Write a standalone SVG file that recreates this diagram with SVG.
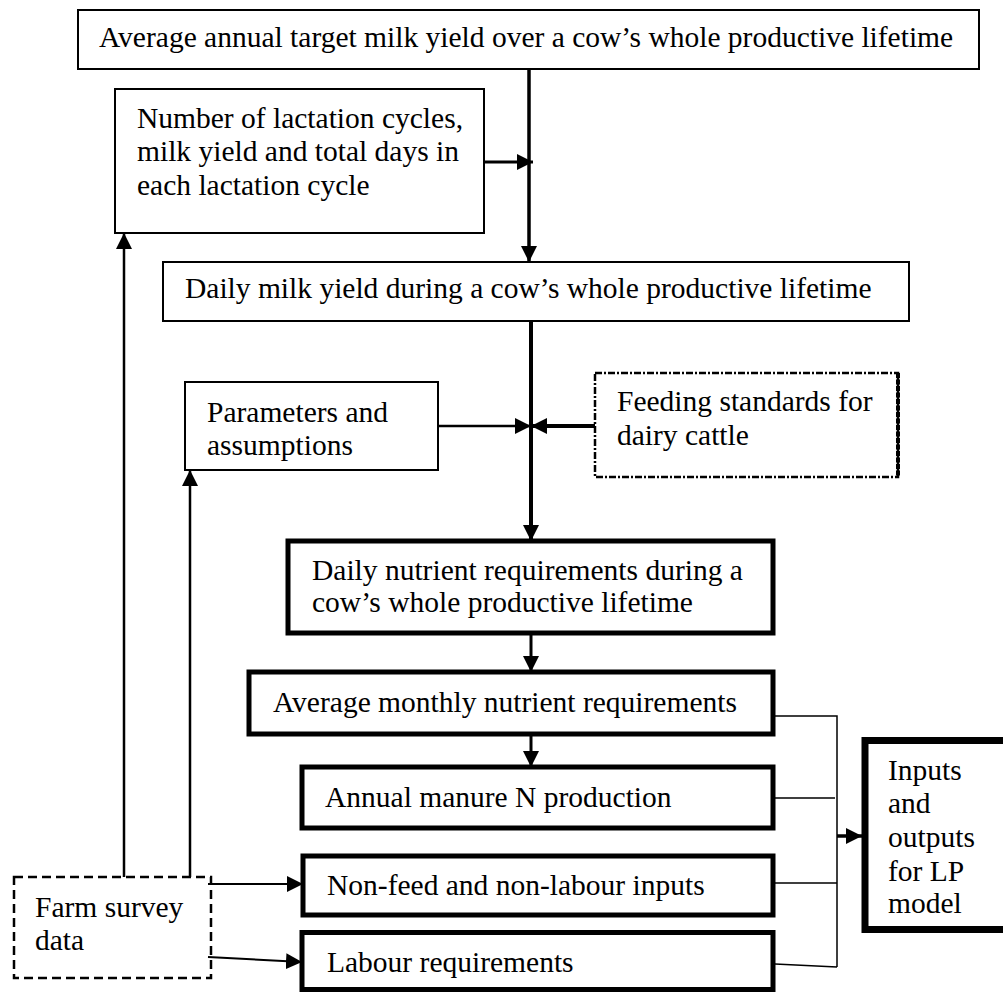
<svg xmlns="http://www.w3.org/2000/svg" width="1003" height="994" viewBox="0 0 1003 994">
<style>
text{font-family:"Liberation Serif","Times New Roman",serif;font-size:29.5px;fill:#000}
.thin{fill:#fff;stroke:#000;stroke-width:2}
.thick{fill:#fff;stroke:#000;stroke-width:5}
.lp{fill:#fff;stroke:#000;stroke-width:7}
.dot{fill:#fff;stroke:#000;stroke-width:2.5;stroke-dasharray:7 2 2 2}
.dash{fill:#fff;stroke:#000;stroke-width:2.5;stroke-dasharray:9 5}
.c{fill:none;stroke:#000}
</style>
<defs>
<marker id="ah" markerUnits="userSpaceOnUse" markerWidth="17" markerHeight="16" refX="16" refY="8" orient="auto" viewBox="0 0 17 16">
<path d="M0,0 L16,8 L0,16 z" fill="#000"/>
</marker>
</defs>
<rect width="1003" height="994" fill="#fff"/>
<g id="top"><rect class="thin" x="78" y="10" width="901" height="59"/><text x="99" y="47">Average annual target milk yield over a cow’s whole productive lifetime</text></g>
<g id="lactation"><rect class="thin" x="115" y="89" width="369" height="144"/><text x="137" y="128">Number of lactation cycles,</text><text x="137" y="161">milk yield and total days in</text><text x="137" y="195">each lactation cycle</text></g>
<g id="dailymilk"><rect class="thin" x="163" y="262" width="746" height="59"/><text x="185" y="298">Daily milk yield during a cow’s whole productive lifetime</text></g>
<g id="parameters"><rect class="thin" x="185" y="382" width="253" height="88"/><text x="207" y="422">Parameters and</text><text x="207" y="455">assumptions</text></g>
<g id="feeding"><rect class="dot" x="595" y="373" width="303" height="104"/><path d="M898,373 V477" fill="none" stroke="#000" stroke-width="4" stroke-dasharray="5 1.5"/><text x="617" y="411">Feeding standards for</text><text x="617" y="445">dairy cattle</text></g>
<g id="nutrient"><rect class="thick" x="288" y="541" width="485" height="92"/><text x="312" y="580">Daily nutrient requirements during a</text><text x="312" y="612">cow’s whole productive lifetime</text></g>
<g id="monthly"><rect class="thick" x="249" y="672" width="524" height="62"/><text x="273" y="712">Average monthly nutrient requirements</text></g>
<g id="manure"><rect class="thick" x="302" y="767" width="471" height="61"/><text x="325" y="807">Annual manure N production</text></g>
<g id="nonfeed"><rect class="thick" x="303" y="856" width="470" height="59"/><text x="327" y="895">Non-feed and non-labour inputs</text></g>
<g id="labour"><rect class="thick" x="302" y="932.5" width="471" height="57"/><text x="327" y="972">Labour requirements</text></g>
<g id="farm"><rect class="dash" x="14" y="877" width="197" height="101"/><text x="35" y="917">Farm survey</text><text x="35" y="950">data</text></g>
<g id="lp"><rect class="lp" x="865" y="740.5" width="150" height="189"/><text x="888" y="780">Inputs</text><text x="888" y="813">and</text><text x="888" y="847">outputs</text><text x="888" y="881">for LP</text><text x="888" y="913">model</text></g>
<g id="connectors">
<path class="c" stroke-width="3.5" d="M529,69 V262" marker-end="url(#ah)"/>
<path class="c" stroke-width="3" d="M484,162 H533" marker-end="url(#ah)"/>
<path class="c" stroke-width="4" d="M531,321 V541" marker-end="url(#ah)"/>
<path class="c" stroke-width="2.5" d="M438,426 H531" marker-end="url(#ah)"/>
<path class="c" stroke-width="4" d="M595,426 H531" marker-end="url(#ah)"/>
<path class="c" stroke-width="3" d="M531,633 V672" marker-end="url(#ah)"/>
<path class="c" stroke-width="3" d="M531,734 V767" marker-end="url(#ah)"/>
<path class="c" stroke-width="2.5" d="M124,877 V233" marker-end="url(#ah)"/>
<path class="c" stroke-width="2.5" d="M190,877 V470" marker-end="url(#ah)"/>
<path class="c" stroke-width="2" d="M208,884 H303" marker-end="url(#ah)"/>
<path class="c" stroke-width="2" d="M208,957 L302,962" marker-end="url(#ah)"/>
<path class="c" stroke-width="1.5" d="M775,716 H837 V967 M775,798 H835 M775,883 H837 M775,964 L837,967"/>
<path class="c" stroke-width="3.5" d="M837,836 H862" marker-end="url(#ah)"/>
</g>
</svg>
